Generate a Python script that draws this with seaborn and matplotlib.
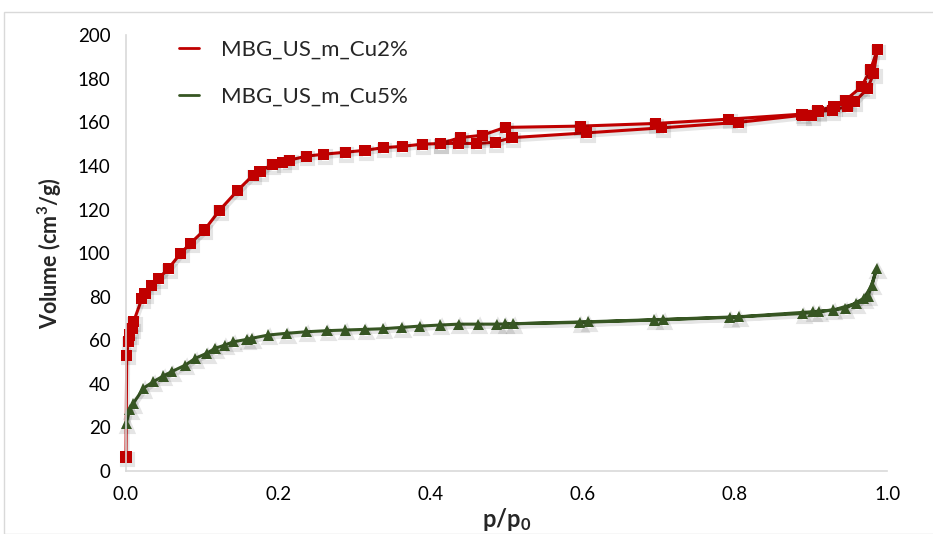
import numpy as np
import pandas as pd
import matplotlib
matplotlib.use("Agg")
import matplotlib.pyplot as plt
import matplotlib.patheffects as pe
from matplotlib.patches import Rectangle
import seaborn as sns

# Cu2% isotherm: adsorption then desorption branch
cu2_ads_p = [0.0, 0.001, 0.003, 0.005, 0.008, 0.010, 0.021, 0.025, 0.034, 0.043,
             0.056, 0.072, 0.085, 0.103, 0.123, 0.147, 0.167, 0.176, 0.192, 0.206,
             0.215, 0.237, 0.260, 0.288, 0.314, 0.338, 0.363, 0.389, 0.413, 0.437,
             0.461, 0.485, 0.507, 0.605, 0.704, 0.804, 0.889, 0.901, 0.909, 0.928,
             0.948, 0.957, 0.974, 0.982, 0.987]
cu2_ads_v = [6.4, 53.2, 59.3, 62.4, 65.5, 68.5, 79.2, 81.5, 85.3, 88.4,
             93.0, 100.0, 104.6, 110.6, 119.7, 128.9, 135.8, 137.3, 140.8, 141.4,
             142.7, 144.5, 145.4, 146.3, 147.2, 148.4, 149.0, 150.0, 150.3, 150.4,
             150.3, 150.9, 153.0, 155.2, 157.5, 160.0, 163.3, 163.0, 165.0, 165.6,
             167.4, 169.4, 175.5, 182.4, 193.4]
cu2_des_p = [0.978, 0.966, 0.945, 0.930, 0.908, 0.888, 0.792, 0.695, 0.597, 0.498,
             0.468, 0.439, 0.413]
cu2_des_v = [184.3, 176.3, 170.2, 167.4, 165.3, 163.8, 161.5, 159.5, 158.3, 157.7,
             154.1, 153.0, 150.3]

# Cu5% isotherm
cu5_ads_p = [0.0005, 0.005, 0.0096, 0.023, 0.036, 0.049, 0.060, 0.078, 0.091, 0.106,
             0.117, 0.130, 0.141, 0.159, 0.165, 0.187, 0.211, 0.237, 0.264, 0.288,
             0.314, 0.338, 0.362, 0.386, 0.413, 0.437, 0.463, 0.487, 0.509, 0.607,
             0.706, 0.805, 0.902, 0.929, 0.959, 0.975, 0.986]
cu5_ads_v = [21.9, 28.3, 31.0, 38.0, 41.0, 43.6, 45.6, 48.6, 51.7, 54.0,
             56.3, 57.8, 59.3, 60.4, 60.9, 62.4, 63.2, 63.9, 64.4, 64.7,
             65.0, 65.3, 65.9, 66.5, 67.0, 67.4, 67.4, 67.4, 67.6, 68.5,
             69.6, 70.8, 73.1, 73.9, 76.9, 80.3, 93.0]
cu5_des_p = [0.980, 0.969, 0.945, 0.910, 0.889, 0.793, 0.694, 0.596, 0.498]
cu5_des_v = [85.3, 79.2, 74.6, 73.1, 72.3, 70.5, 69.3, 68.2, 67.5]

labels = ["MBG_US_m_Cu2%", "MBG_US_m_Cu5%"]
colors = ["#C00000", "#375623"]
markers = ["s", "^"]

df = pd.concat([
    pd.DataFrame({"p": cu2_ads_p + cu2_des_p, "v": cu2_ads_v + cu2_des_v, "sample": labels[0]}),
    pd.DataFrame({"p": cu5_ads_p + cu5_des_p, "v": cu5_ads_v + cu5_des_v, "sample": labels[1]}),
], ignore_index=True)

sns.set_style("white")
plt.rcParams["font.family"] = ["Lato", "DejaVu Sans"]
plt.rcParams["mathtext.default"] = "regular"

fig = plt.figure(figsize=(9.33, 5.34), dpi=100)
ax = fig.add_axes([0.135, 0.118, 0.816, 0.816])

# soft drop shadow like the spreadsheet original
shadow = [pe.SimpleLineShadow(offset=(1.0, -2.0), shadow_color="black", alpha=0.10, linewidth=3),
          pe.Normal()]

for lab, col, mk in zip(labels, colors, markers):
    sub = df[df["sample"] == lab]
    sns.lineplot(data=sub, x="p", y="v", sort=False, estimator=None, ax=ax,
                 color=col, marker=mk, markersize=8, markeredgewidth=0,
                 linewidth=2.2, label=lab, path_effects=shadow, clip_on=False)

ax.set_xlim(0, 1.0)
ax.set_ylim(0, 200)
ax.set_xticks(np.arange(0, 1.01, 0.2))
ax.set_xticklabels([f"{t:.1f}" for t in np.arange(0, 1.01, 0.2)])
ax.set_yticks(np.arange(0, 201, 20))

for s in ["top", "right"]:
    ax.spines[s].set_visible(False)
for s in ["left", "bottom"]:
    ax.spines[s].set_color("#D9D9D9")
    ax.spines[s].set_linewidth(1.2)
ax.tick_params(axis="both", direction="out", length=5, width=1.2, color="#D9D9D9",
               labelsize=13.5, labelcolor="#000000", pad=6)

ax.set_xlabel("p/p$_0$", fontsize=17, fontweight="bold", labelpad=2)
ax.set_ylabel("Volume (cm$^3$/g)", fontsize=15.5, fontweight="bold", labelpad=10)

handles = [plt.Line2D([], [], color=c, linewidth=2) for c in colors]
ax.legend(handles, labels, loc="upper left", bbox_to_anchor=(0.043, 1.035), frameon=False,
          fontsize=16, handlelength=0.9, handletextpad=1.0, labelspacing=1.2)

fig.patches.append(Rectangle((4 / 933, 0), 1.0, 1 - 12 / 534, transform=fig.transFigure,
                             fill=False, edgecolor="#D9D9D9", linewidth=1.0))

fig.savefig("out.png", dpi=100)
